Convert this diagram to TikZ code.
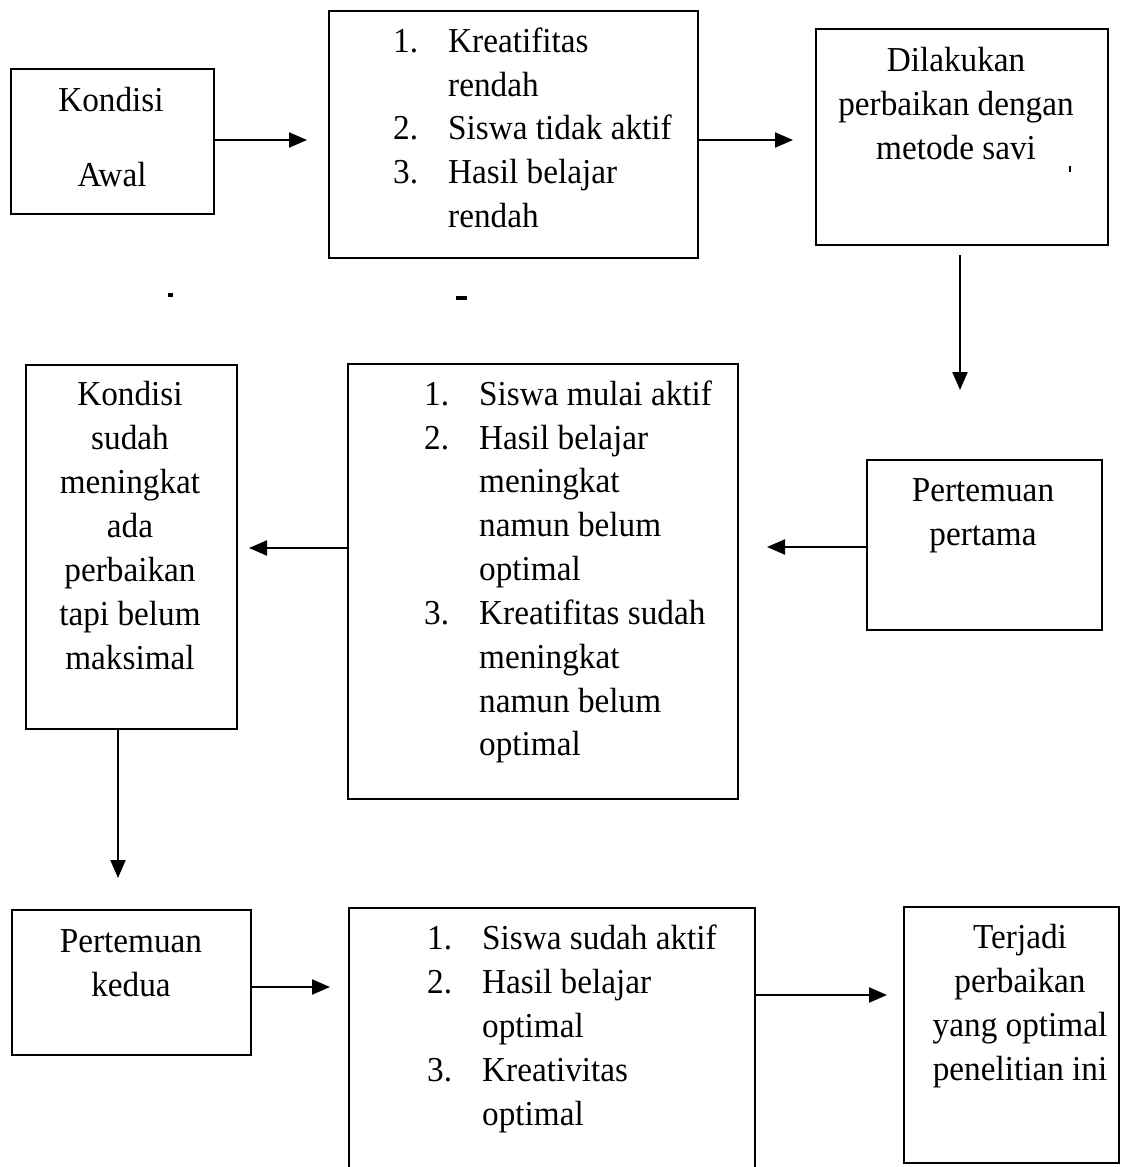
\documentclass[tikz,border=0pt]{standalone}
\usepackage{fontspec}
\setmainfont{Liberation Serif}[FakeStretch=0.95]
\usetikzlibrary{arrows.meta}
\tikzset{
  box/.style={draw, line width=2.2pt, inner sep=0pt, anchor=north west},
  txt/.style={inner sep=0pt, anchor=base, font=\fontsize{35}{44}\selectfont},
  ltxt/.style={txt, anchor=base west},
  arr/.style={line width=2.2pt, -{Triangle[length=18pt,width=15pt]}},
  speck/.style={fill=black, draw=none}
}
\begin{document}
\begin{tikzpicture}[x=1pt,y=-1pt]
\useasboundingbox (0,0) rectangle (1129,1167);
% boxes
\node[box, minimum width=203pt, minimum height=145pt] (b1) at (10,68) {};
\node[box, minimum width=369pt, minimum height=247pt] (b2) at (328,10) {};
\node[box, minimum width=292pt, minimum height=216pt] (b3) at (815,28) {};
\node[box, minimum width=235pt, minimum height=170pt] (b4) at (866,459) {};
\node[box, minimum width=390pt, minimum height=435pt] (b5) at (347,363) {};
\node[box, minimum width=211pt, minimum height=364pt] (b6) at (25,364) {};
\node[box, minimum width=239pt, minimum height=145pt] (b7) at (11,909) {};
\node[box, minimum width=406pt, minimum height=275pt] (b8) at (348,907) {};
\node[box, minimum width=215pt, minimum height=256pt] (b9) at (903,906) {};
% box 1 text
\node[txt] (k1) at (111,111) {Kondisi};
\node[txt] (k2) at (112,186) {Awal};
% box 2 text
\node[ltxt] (n21) at (393,52) {1.};
\node[ltxt] (t21) at (448,52) {Kreatifitas};
\node[ltxt] (t22) at (448,96) {rendah};
\node[ltxt] (n22) at (393,139) {2.};
\node[ltxt] (t23) at (448,139) {Siswa tidak aktif};
\node[ltxt] (n23) at (393,183) {3.};
\node[ltxt] (t24) at (448,183) {Hasil belajar};
\node[ltxt] (t25) at (448,227) {rendah};
% box 3 text
\node[txt] (d1) at (956,71) {Dilakukan};
\node[txt] (d2) at (956,115) {perbaikan dengan};
\node[txt] (d3) at (956,159) {metode savi};
% box 4 text
\node[txt] (p1) at (983,501) {Pertemuan};
\node[txt] (p2) at (983,545) {pertama};
% box 5 text
\node[ltxt] (n51) at (424,405) {1.};
\node[ltxt] (t51) at (479,405) {Siswa mulai aktif};
\node[ltxt] (n52) at (424,449) {2.};
\node[ltxt] (t52) at (479,449) {Hasil belajar};
\node[ltxt] (t53) at (479,492) {meningkat};
\node[ltxt] (t54) at (479,536) {namun belum};
\node[ltxt] (t55) at (479,580) {optimal};
\node[ltxt] (n53) at (424,624) {3.};
\node[ltxt] (t56) at (479,624) {Kreatifitas sudah};
\node[ltxt] (t57) at (479,668) {meningkat};
\node[ltxt] (t58) at (479,712) {namun belum};
\node[ltxt] (t59) at (479,755) {optimal};
% box 6 text
\node[txt] (s1) at (130,405) {Kondisi};
\node[txt] (s2) at (130,449) {sudah};
\node[txt] (s3) at (130,493) {meningkat};
\node[txt] (s4) at (130,537) {ada};
\node[txt] (s5) at (130,581) {perbaikan};
\node[txt] (s6) at (130,625) {tapi belum};
\node[txt] (s7) at (130,669) {maksimal};
% box 7 text
\node[txt] (q1) at (131,952) {Pertemuan};
\node[txt] (q2) at (131,996) {kedua};
% box 8 text
\node[ltxt] (n81) at (427,949) {1.};
\node[ltxt] (t81) at (482,949) {Siswa sudah aktif};
\node[ltxt] (n82) at (427,993) {2.};
\node[ltxt] (t82) at (482,993) {Hasil belajar};
\node[ltxt] (t83) at (482,1037) {optimal};
\node[ltxt] (n83) at (427,1081) {3.};
\node[ltxt] (t84) at (482,1081) {Kreativitas};
\node[ltxt] (t85) at (482,1125) {optimal};
% box 9 text
\node[txt] (r1) at (1020,948) {Terjadi};
\node[txt] (r2) at (1020,992) {perbaikan};
\node[txt] (r3) at (1020,1036) {yang optimal};
\node[txt] (r4) at (1020,1080) {penelitian ini};
% arrow coordinates
\coordinate (a1) at (307,140);
\coordinate (a2) at (793,140);
\coordinate (s3) at (960,255);
\coordinate (a3) at (960,390);
\coordinate (a4) at (767,547);
\coordinate (a5) at (249,548);
\coordinate (a6) at (118,878);
\coordinate (a7) at (330,987);
\coordinate (a8) at (887,995);
% arrows
\draw[arr] (b1.east |- a1) -- (a1);
\draw[arr] (b2.east |- a2) -- (a2);
\draw[arr] (s3) -- (a3);
\draw[arr] (b4.west |- a4) -- (a4);
\draw[arr] (b5.west |- a5) -- (a5);
\draw[arr] (b6.south -| a6) -- (a6);
\draw[arr] (b7.east |- a7) -- (a7);
\draw[arr] (b8.east |- a8) -- (a8);
% scan specks
\fill[speck] (168,293) rectangle (173,297);
\fill[speck] (456,296) rectangle (467,300);
\fill[speck] (1069,166) rectangle (1071,172);
\end{tikzpicture}
\end{document}
